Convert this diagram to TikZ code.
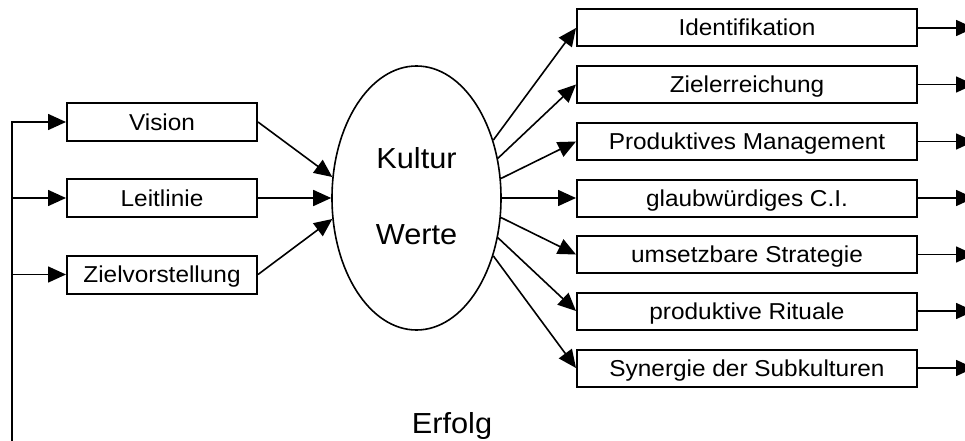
\documentclass[tikz,border=0pt]{standalone}
\usepackage{fontspec}
\setmainfont{Liberation Sans}[FakeStretch=1.06]
\usetikzlibrary{arrows.meta,shapes.geometric}

\begin{document}
\begin{tikzpicture}[x=1pt,y=-1pt,
  box/.style={draw,line width=2pt,inner sep=0pt,text height=16pt,text depth=0pt,
    font=\fontsize{23}{27}\selectfont},
  leftbox/.style={box,minimum width=190pt,minimum height=38pt},
  rightbox/.style={box,minimum width=340pt,minimum height=37pt},
  big/.style={inner sep=0pt,text height=20pt,text depth=0pt,font=\fontsize{29}{33}\selectfont},
  conn/.style={line width=1.6pt,-{Triangle[length=18pt,width=16pt]}}
]
\useasboundingbox (0,0) rectangle (965,441);

% central ellipse
\node[ellipse,draw,line width=1.6pt,minimum width=169pt,minimum height=264pt,inner sep=0pt] (K) at (416.5,198) {};
\node[big] (kultur) at (416.5,158) {Kultur};
\node[big] (werte) at (416.5,234.5) {Werte};

% inputs
\node[leftbox] (vis) at (162,122) {Vision};
\node[leftbox] (lei) at (162,198) {Leitlinie};
\node[leftbox] (ziel) at (162,274.5) {Zielvorstellung};

% outcomes
\node[rightbox] (r1) at (747,28) {Identifikation};
\node[rightbox] (r2) at (747,84.5) {Zielerreichung};
\node[rightbox] (r3) at (747,141.5) {Produktives Management};
\node[rightbox] (r4) at (747,198) {glaubwürdiges C.I.};
\node[rightbox] (r5) at (747,254.5) {umsetzbare Strategie};
\node[rightbox] (r6) at (747,311) {produktive Rituale};
\node[rightbox] (r7) at (747,368) {Synergie der Subkulturen};

\node[big] (erfolg) at (452,423) {Erfolg};

% feedback trunk on the left
\coordinate (trunkTop) at (12,122);
\coordinate (trunkBot) at (12,446);
\coordinate (outx) at (974,0);

\draw[conn] (trunkBot) -- (trunkTop) -- (vis.west);
\draw[conn] (trunkTop |- lei) -- (lei.west);
\draw[conn] (trunkTop |- ziel) -- (ziel.west);

% inputs into the ellipse
\draw[conn] (vis.east) -- (K.166);
\draw[conn] (lei.east) -- (K.180);
\draw[conn] (ziel.east) -- (K.194);

% ellipse to outcomes
\draw[conn] (K.37) -- (r1.west);
\draw[conn] (K.26) -- (r2.west);
\draw[conn] (K.13) -- (r3.west);
\draw[conn] (K.0) -- (r4.west);
\draw[conn] (K.-13) -- (r5.west);
\draw[conn] (K.-26) -- (r6.west);
\draw[conn] (K.-37) -- (r7.west);

% outgoing arrows
\foreach \r in {r1,r2,r3,r4,r5,r6,r7}
  \draw[conn] (\r.east) -- (\r.east -| outx);
\end{tikzpicture}
\end{document}
